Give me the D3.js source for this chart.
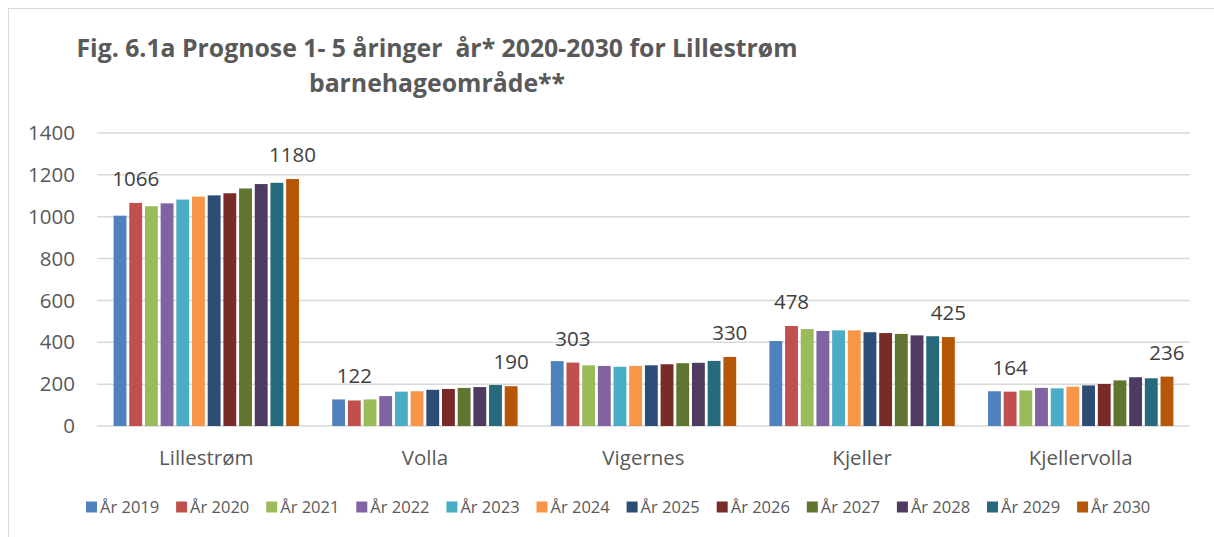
<!DOCTYPE html>
<html>
<head>
<meta charset="utf-8">
<script src="https://cdn.jsdelivr.net/npm/d3@7"></script>
<style>
  body { margin: 0; background: #fff; }
  svg { display: block; font-family: "Open Sans", sans-serif; }
</style>
</head>
<body>
<svg id="chart" width="1214" height="537"></svg>
<script>
const categories = ["Lillestrøm", "Volla", "Vigernes", "Kjeller", "Kjellervolla"];
const years = ["År 2019", "År 2020", "År 2021", "År 2022", "År 2023", "År 2024",
               "År 2025", "År 2026", "År 2027", "År 2028", "År 2029", "År 2030"];
// one array per area, one value per year
const lillestrom   = [1005, 1066, 1050, 1064, 1082, 1096, 1102, 1112, 1135, 1156, 1162, 1180];
const volla        = [127, 122, 127, 143, 164, 166, 173, 177, 182, 186, 196, 190];
const vigernes     = [310, 303, 290, 287, 283, 287, 290, 295, 300, 302, 311, 330];
const kjeller      = [406, 478, 463, 454, 457, 457, 448, 444, 440, 433, 429, 425];
const kjellervolla = [166, 164, 170, 182, 180, 188, 194, 201, 218, 233, 228, 236];
const yTicks = [0, 200, 400, 600, 800, 1000, 1200, 1400];
const labelled = [1, 11]; // years that carry a value label

const colors = ["#4F81BD", "#C0504D", "#9BBB59", "#8064A2", "#4BACC6", "#F79646",
                "#2C4D75", "#772C2A", "#5F7530", "#4D3B62", "#276A7C", "#B65708"];

const values = [lillestrom, volla, vigernes, kjeller, kjellervolla];

const svg = d3.select("#chart");
const plotLeft = 97, plotRight = 1190, plotTop = 133, plotBottom = 426;

// chart frame
svg.append("rect")
  .attr("x", 8.5).attr("y", 8.5)
  .attr("width", 1220).attr("height", 540)
  .attr("fill", "none").attr("stroke", "#d9d9d9");

// title
const title = svg.append("text")
  .attr("text-anchor", "middle")
  .attr("font-weight", "bold")
  .attr("fill", "#595959")
  .attr("font-size", "24.8px")
  .style("white-space", "pre");
title.append("tspan").attr("x", 437).attr("y", 57)
  .text("Fig. 6.1a Prognose 1- 5 åringer  år* 2020-2030 for Lillestrøm");
title.append("tspan").attr("x", 437).attr("y", 92).text("barnehageområde**");

const x0 = d3.scaleBand().domain(categories).range([plotLeft, plotRight])
  .paddingInner(0.126).paddingOuter(0.063);
const x1 = d3.scaleBand().domain(d3.range(years.length)).range([0, x0.bandwidth()])
  .padding(0.18);
const y = d3.scaleLinear().domain([0, 1400]).range([plotBottom, plotTop]);

// gridlines
svg.append("g").selectAll("line")
  .data(yTicks)
  .enter()
  .append("line")
  .attr("x1", plotLeft).attr("x2", plotRight)
  .attr("y1", d => y(d)).attr("y2", d => y(d))
  .attr("stroke", "#d9d9d9")
  .attr("stroke-width", 1.5);

// y axis labels
svg.append("g").selectAll("text")
  .data(yTicks)
  .enter()
  .append("text")
  .attr("x", 75)
  .attr("y", d => y(d))
  .attr("dy", "0.35em")
  .attr("text-anchor", "end")
  .attr("font-size", "20.5px")
  .attr("fill", "#595959")
  .text(d => d);

// bars
const groups = svg.append("g").selectAll("g")
  .data(categories)
  .enter()
  .append("g")
  .attr("transform", d => "translate(" + x0(d) + ",0)");

groups.selectAll("rect")
  .data((d, i) => values[i].map((v, j) => ({ v, j })))
  .enter()
  .append("rect")
  .attr("x", d => x1(d.j))
  .attr("width", x1.bandwidth())
  .attr("y", d => y(d.v))
  .attr("height", d => y(0) - y(d.v))
  .attr("fill", d => colors[d.j]);

// value labels
groups.selectAll("text")
  .data((d, i) => labelled.map(j => ({ v: values[i][j], j })))
  .enter()
  .append("text")
  .attr("x", d => x1(d.j) + x1.bandwidth() / 2)
  .attr("y", d => y(d.v) - 17)
  .attr("text-anchor", "middle")
  .attr("font-size", "20.5px")
  .attr("fill", "#404040")
  .text(d => d.v);

// category labels
svg.append("g").selectAll("text")
  .data(categories)
  .enter()
  .append("text")
  .attr("x", d => x0(d) + x0.bandwidth() / 2)
  .attr("y", 465)
  .attr("text-anchor", "middle")
  .attr("font-size", "20.5px")
  .attr("fill", "#595959")
  .text(d => d);

// legend
const legend = svg.append("g").selectAll("g")
  .data(years)
  .enter()
  .append("g")
  .attr("transform", (d, i) => "translate(" + (86 + i * 90.1) + ",507)");

legend.append("rect")
  .attr("x", 0).attr("y", -5.5)
  .attr("width", 11).attr("height", 11)
  .attr("fill", (d, i) => colors[i]);

legend.append("text")
  .attr("x", 14)
  .attr("dy", "0.36em")
  .attr("font-size", "16.5px")
  .attr("fill", "#595959")
  .text(d => d);
</script>
</body>
</html>
